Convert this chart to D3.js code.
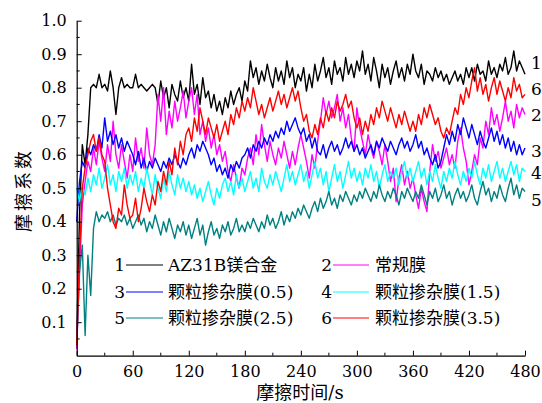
<!DOCTYPE html>
<html>
<head>
<meta charset="utf-8">
<script src="https://cdn.jsdelivr.net/npm/d3@7"></script>
<style>
  body { margin: 0; background: #fff; }
  text { font-family: "DejaVu Serif", "Liberation Serif", "Noto Sans CJK SC", serif; fill: #000; }
</style>
</head>
<body>
<div id="chart"></div>
<script>
// sampling times, every 3 s
var times = d3.range(0, 481, 3);

var xTicks = [0, 60, 120, 180, 240, 300, 360, 420, 480],
    yTicks = [0.1, 0.2, 0.3, 0.4, 0.5, 0.6, 0.7, 0.8, 0.9, 1.0];

// 1 AZ31B
var s1 = [0.04,0.42,0.63,0.57,0.66,0.80,0.81,0.80,0.84,0.80,0.81,0.79,0.85,0.80,0.72,0.80,0.83,0.80,0.81,0.80,
  0.80,0.84,0.80,0.81,0.80,0.79,0.80,0.81,0.80,0.75,0.82,0.77,0.80,0.74,0.81,0.78,0.76,0.82,0.77,0.80,
  0.76,0.87,0.78,0.81,0.75,0.83,0.77,0.79,0.74,0.78,0.73,0.76,0.72,0.77,0.74,0.79,0.75,0.78,0.80,0.76,
  0.82,0.79,0.88,0.83,0.86,0.81,0.85,0.82,0.87,0.83,0.80,0.86,0.82,0.85,0.81,0.88,0.83,0.86,0.80,0.84,
  0.82,0.86,0.79,0.84,0.80,0.87,0.82,0.85,0.89,0.83,0.86,0.81,0.88,0.84,0.86,0.82,0.89,0.84,0.87,0.83,
  0.88,0.85,0.91,0.84,0.87,0.82,0.89,0.85,0.80,0.87,0.83,0.86,0.81,0.85,0.88,0.83,0.86,0.82,0.87,0.84,
  0.90,0.85,0.83,0.87,0.81,0.85,0.84,0.82,0.86,0.83,0.85,0.82,0.84,0.81,0.83,0.85,0.82,0.84,0.81,0.86,
  0.83,0.86,0.82,0.87,0.84,0.85,0.82,0.88,0.84,0.86,0.83,0.87,0.85,0.89,0.84,0.86,0.91,0.85,0.88,0.86,
  0.84];
// 2 conventional film
var s2 = [0.02,0.25,0.45,0.52,0.58,0.55,0.62,0.57,0.64,0.59,0.55,0.63,0.58,0.70,0.60,0.56,0.63,0.58,0.53,0.60,
  0.55,0.65,0.58,0.62,0.56,0.68,0.60,0.57,0.63,0.78,0.70,0.80,0.66,0.73,0.68,0.76,0.70,0.74,0.79,0.71,
  0.76,0.80,0.72,0.78,0.66,0.70,0.64,0.68,0.62,0.66,0.60,0.63,0.58,0.61,0.55,0.52,0.57,0.53,0.50,0.56,
  0.54,0.59,0.62,0.57,0.66,0.60,0.69,0.63,0.58,0.64,0.60,0.57,0.62,0.59,0.64,0.60,0.56,0.61,0.57,0.62,
  0.66,0.62,0.58,0.53,0.60,0.56,0.64,0.70,0.77,0.72,0.76,0.71,0.74,0.78,0.70,0.74,0.68,0.72,0.65,0.61,
  0.74,0.68,0.64,0.60,0.66,0.62,0.59,0.64,0.61,0.57,0.63,0.58,0.52,0.56,0.46,0.53,0.57,0.51,0.55,0.50,
  0.53,0.48,0.44,0.50,0.46,0.43,0.55,0.63,0.58,0.61,0.56,0.59,0.62,0.57,0.60,0.56,0.64,0.68,0.62,0.58,
  0.51,0.55,0.60,0.57,0.65,0.62,0.70,0.66,0.74,0.69,0.72,0.67,0.71,0.76,0.70,0.73,0.68,0.75,0.71,0.74,
  0.72];
// 3 particle doped 0.5
var s3 = [0.40,0.52,0.58,0.56,0.62,0.60,0.63,0.61,0.66,0.62,0.71,0.64,0.67,0.63,0.66,0.62,0.65,0.61,0.64,0.62,
  0.60,0.57,0.61,0.56,0.59,0.55,0.58,0.56,0.59,0.57,0.55,0.58,0.56,0.59,0.57,0.60,0.58,0.56,0.59,0.57,
  0.60,0.62,0.59,0.63,0.61,0.64,0.62,0.60,0.57,0.59,0.55,0.57,0.54,0.56,0.53,0.57,0.55,0.58,0.56,0.59,
  0.60,0.62,0.59,0.63,0.61,0.64,0.62,0.65,0.63,0.66,0.64,0.67,0.65,0.68,0.66,0.70,0.67,0.69,0.71,0.68,
  0.66,0.68,0.64,0.66,0.62,0.65,0.61,0.60,0.63,0.59,0.62,0.64,0.61,0.63,0.60,0.62,0.65,0.62,0.64,0.61,
  0.63,0.60,0.62,0.59,0.61,0.63,0.60,0.64,0.62,0.65,0.63,0.61,0.64,0.62,0.60,0.63,0.65,0.62,0.64,0.61,
  0.63,0.66,0.62,0.64,0.60,0.62,0.59,0.57,0.60,0.56,0.58,0.62,0.66,0.63,0.67,0.64,0.69,0.66,0.71,0.68,
  0.65,0.69,0.66,0.63,0.67,0.64,0.62,0.65,0.68,0.64,0.67,0.63,0.66,0.62,0.65,0.61,0.64,0.60,0.63,0.60,
  0.62];
// 4 particle doped 1.5
var s4 = [0.50,0.46,0.51,0.48,0.53,0.49,0.54,0.51,0.56,0.50,0.53,0.57,0.51,0.54,0.49,0.55,0.52,0.56,0.50,0.54,
  0.51,0.55,0.49,0.53,0.50,0.56,0.52,0.48,0.54,0.50,0.47,0.53,0.49,0.55,0.51,0.48,0.54,0.50,0.53,0.49,
  0.52,0.48,0.51,0.47,0.50,0.46,0.49,0.52,0.48,0.45,0.50,0.47,0.51,0.53,0.49,0.52,0.48,0.54,0.50,0.53,
  0.49,0.52,0.55,0.50,0.53,0.49,0.56,0.52,0.50,0.54,0.51,0.55,0.52,0.49,0.53,0.57,0.52,0.55,0.51,0.54,
  0.57,0.52,0.55,0.50,0.54,0.58,0.53,0.56,0.51,0.55,0.49,0.53,0.57,0.52,0.55,0.50,0.54,0.58,0.53,0.56,
  0.52,0.55,0.51,0.56,0.53,0.57,0.52,0.55,0.50,0.54,0.57,0.52,0.55,0.53,0.56,0.51,0.55,0.58,0.53,0.56,
  0.52,0.55,0.58,0.53,0.56,0.51,0.55,0.52,0.57,0.53,0.50,0.55,0.52,0.56,0.53,0.58,0.54,0.51,0.55,0.52,
  0.56,0.53,0.58,0.54,0.51,0.56,0.53,0.57,0.52,0.55,0.58,0.53,0.56,0.52,0.55,0.58,0.54,0.57,0.52,0.56,
  0.55];
// 5 particle doped 2.5
var s5 = [0.03,0.25,0.33,0.06,0.30,0.18,0.38,0.43,0.40,0.42,0.41,0.43,0.40,0.42,0.39,0.41,0.40,0.42,0.39,0.41,
  0.38,0.40,0.42,0.39,0.41,0.37,0.40,0.38,0.42,0.39,0.36,0.40,0.37,0.41,0.38,0.35,0.39,0.37,0.40,0.36,
  0.39,0.35,0.38,0.41,0.36,0.39,0.33,0.37,0.40,0.36,0.38,0.35,0.39,0.37,0.40,0.36,0.38,0.41,0.37,0.39,
  0.37,0.40,0.38,0.41,0.39,0.37,0.40,0.38,0.42,0.39,0.41,0.38,0.40,0.43,0.39,0.42,0.40,0.43,0.41,0.44,
  0.42,0.45,0.43,0.41,0.44,0.46,0.43,0.47,0.44,0.46,0.49,0.45,0.47,0.44,0.48,0.46,0.49,0.47,0.45,0.48,
  0.46,0.49,0.47,0.50,0.48,0.46,0.49,0.47,0.51,0.48,0.46,0.49,0.47,0.50,0.48,0.45,0.49,0.47,0.50,0.48,
  0.46,0.49,0.47,0.51,0.48,0.45,0.49,0.47,0.50,0.46,0.48,0.51,0.47,0.49,0.45,0.48,0.50,0.47,0.49,0.46,
  0.48,0.51,0.47,0.45,0.49,0.52,0.48,0.50,0.46,0.49,0.47,0.51,0.48,0.46,0.50,0.53,0.48,0.51,0.47,0.50,
  0.49];
// 6 particle doped 3.5
var s6 = [0.03,0.30,0.50,0.56,0.60,0.64,0.66,0.61,0.65,0.60,0.58,0.50,0.45,0.40,0.38,0.44,0.42,0.51,0.45,0.41,
  0.42,0.47,0.40,0.44,0.50,0.46,0.43,0.48,0.45,0.52,0.49,0.55,0.51,0.58,0.54,0.62,0.57,0.64,0.60,0.66,
  0.68,0.64,0.71,0.67,0.74,0.70,0.66,0.71,0.68,0.65,0.69,0.64,0.67,0.70,0.66,0.72,0.69,0.74,0.71,0.76,
  0.73,0.77,0.74,0.80,0.76,0.72,0.75,0.71,0.74,0.77,0.73,0.76,0.79,0.75,0.78,0.74,0.77,0.80,0.76,0.79,
  0.74,0.70,0.72,0.67,0.65,0.69,0.66,0.71,0.68,0.73,0.70,0.74,0.71,0.76,0.73,0.75,0.78,0.74,0.76,0.71,
  0.68,0.71,0.66,0.70,0.67,0.72,0.69,0.74,0.71,0.76,0.73,0.70,0.74,0.71,0.68,0.72,0.69,0.73,0.70,0.67,
  0.70,0.67,0.72,0.69,0.74,0.71,0.75,0.72,0.69,0.71,0.67,0.65,0.68,0.66,0.70,0.74,0.72,0.78,0.75,0.80,
  0.77,0.82,0.86,0.79,0.83,0.78,0.81,0.76,0.80,0.83,0.78,0.82,0.79,0.76,0.80,0.77,0.83,0.79,0.81,0.77,
  0.78];

var series = [
  {id: "1", name: "AZ31B镁合金", values: s1, color: "#000000", labelY: 0.875},
  {id: "2", name: "常规膜", values: s2, color: "#ff00ff", labelY: 0.72},
  {id: "3", name: "颗粒掺杂膜(0.5)", values: s3, color: "#0000ff", labelY: 0.61},
  {id: "4", name: "颗粒掺杂膜(1.5)", values: s4, color: "#00ffff", labelY: 0.545},
  {id: "5", name: "颗粒掺杂膜(2.5)", values: s5, color: "#008080", labelY: 0.465},
  {id: "6", name: "颗粒掺杂膜(3.5)", values: s6, color: "#ff0000", labelY: 0.795}
];

var serif = "'DejaVu Serif', 'Liberation Serif', 'Noto Sans CJK SC', serif";

var margin = {top: 20.7, left: 76.7},
    width = 448.3,
    height = 335;

var svg = d3.select("#chart").append("svg")
    .attr("width", 542)
    .attr("height", 403);

var g = svg.append("g")
    .attr("transform", "translate(" + margin.left + "," + margin.top + ")");

var x = d3.scaleLinear().domain([0, 480]).range([0, width]),
    y = d3.scaleLinear().domain([0, 1.0]).range([height, 0]);

// lines
var line = d3.line()
    .x(function(d, i) { return x(times[i]); })
    .y(function(d) { return y(d); });

series.forEach(function(s) {
    g.append("path")
        .datum(s.values)
        .attr("fill", "none")
        .attr("stroke", s.color)
        .attr("stroke-width", 1.4)
        .attr("stroke-linejoin", "round")
        .attr("d", line);
});

// axes, ticks pointing inward
var xAxis = g.append("g")
    .attr("transform", "translate(0," + height + ")")
    .call(d3.axisBottom(x).tickValues(xTicks).tickSizeInner(-5).tickSizeOuter(0).tickPadding(10));
xAxis.append("g").selectAll("line")
    .data(d3.range(30, 480, 60))
    .enter().append("line")
    .attr("x1", function(d) { return x(d); })
    .attr("x2", function(d) { return x(d); })
    .attr("y1", 0).attr("y2", -3)
    .attr("stroke", "#000");

var yAxis = g.append("g")
    .call(d3.axisLeft(y).tickValues(yTicks).tickFormat(d3.format(".1f")).tickSizeInner(-5).tickSizeOuter(0).tickPadding(10));
yAxis.append("g").selectAll("line")
    .data([0.05, 0.15, 0.25, 0.35, 0.45, 0.55, 0.65, 0.75, 0.85, 0.95])
    .enter().append("line")
    .attr("x1", 0).attr("x2", 3)
    .attr("y1", function(d) { return y(d); })
    .attr("y2", function(d) { return y(d); })
    .attr("stroke", "#000");

xAxis.attr("font-family", serif).attr("font-size", 16);
yAxis.attr("font-family", serif).attr("font-size", 16);
svg.selectAll(".domain").attr("stroke-width", 1.2);

// axis titles
svg.append("text")
    .attr("x", 300).attr("y", 399)
    .attr("text-anchor", "middle")
    .style("font-size", "18px")
    .text("摩擦时间/s");

svg.append("text")
    .attr("transform", "translate(30,190) rotate(-90)")
    .attr("text-anchor", "middle")
    .style("font-size", "18px")
    .style("letter-spacing", "3px")
    .text("摩擦系数");

// end labels
svg.selectAll(".endlabel")
    .data(series)
    .enter().append("text")
    .attr("class", "endlabel")
    .attr("x", 531)
    .attr("y", function(d) { return margin.top + y(d.labelY) + 6; })
    .style("font-size", "17px")
    .text(function(d) { return d.id; });

// legend
var legendCols = [{num: 125, x1: 126, x2: 163, tx: 168}, {num: 332, x1: 333, x2: 369, tx: 375}],
    legendRows = [265, 292, 318];

var legend = svg.selectAll(".legend")
    .data(series)
    .enter().append("g")
    .attr("class", "legend")
    .attr("transform", function(d, i) {
        return "translate(0," + legendRows[Math.floor(i / 2)] + ")";
    });

legend.append("text")
    .attr("x", function(d, i) { return legendCols[i % 2].num; })
    .attr("y", 6)
    .attr("text-anchor", "end")
    .style("font-size", "17px")
    .text(function(d) { return d.id; });

legend.append("line")
    .attr("x1", function(d, i) { return legendCols[i % 2].x1; })
    .attr("x2", function(d, i) { return legendCols[i % 2].x2; })
    .attr("stroke", function(d) { return d.color; })
    .attr("stroke-width", 1);

legend.append("text")
    .attr("x", function(d, i) { return legendCols[i % 2].tx; })
    .attr("y", 6)
    .style("font-size", "17px")
    .text(function(d) { return d.name; });
</script>
</body>
</html>
